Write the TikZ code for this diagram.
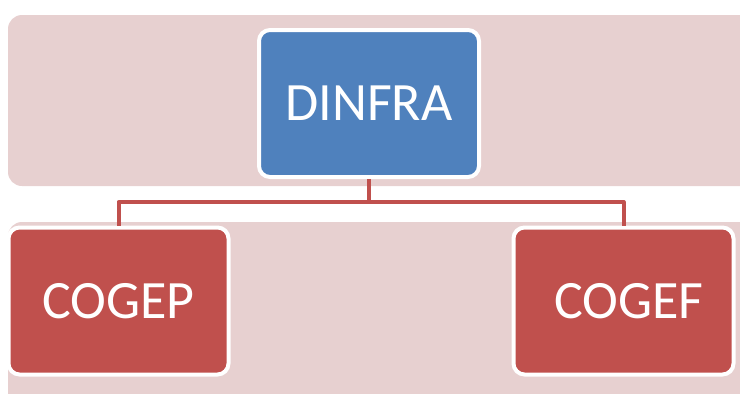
\documentclass[tikz,border=0pt]{standalone}
\usepackage{fontspec}
\usepackage{xcolor}
\usepackage{tikz}
\usetikzlibrary{positioning,calc}
\newfontfamily\boxfont{Carlito}
\definecolor{bandpink}{HTML}{E7D0D0}
\definecolor{headblue}{HTML}{4F81BD}
\definecolor{unitred}{HTML}{C0504D}
\tikzset{
    every picture/.style={line join=round},
    band/.style={fill=bandpink,draw=none,rounded corners=14pt},
    orgbox/.style={draw=white,line width=4pt,rounded corners=11pt,
      minimum width=220pt,minimum height=147pt,inner sep=0pt,
      text=white,font=\boxfont\fontsize{54}{60}\selectfont,align=center},
    headbox/.style={orgbox,fill=headblue},
    unitbox/.style={orgbox,fill=unitred},
    link/.style={draw=unitred,line width=4pt,line cap=butt}
}
\begin{document}
\begin{tikzpicture}[x=1pt,y=-1pt]
  \useasboundingbox (0,0) rectangle (740,394);
  \clip (0,0) rectangle (740,394);
  % background bands
  \fill[band] (8,15) rectangle (770,186);
  \fill[band] (8,222) rectangle (770,430);
  % boxes
  \node[headbox] (dinfra) at (369,103.5) {DINFRA};
  \node[unitbox] (cogep) at (118.5,301) {COGEP};
  \node[unitbox] (cogef) at (623.5,301) {\hspace*{11pt}COGEF};
  % connectors
  \coordinate (bus) at (dinfra.south |- 0,202);
  \draw[link] (dinfra.south) -- (bus);
  \draw[link] (cogep.north) |- (bus) -| (cogef.north);
\end{tikzpicture}
\end{document}
